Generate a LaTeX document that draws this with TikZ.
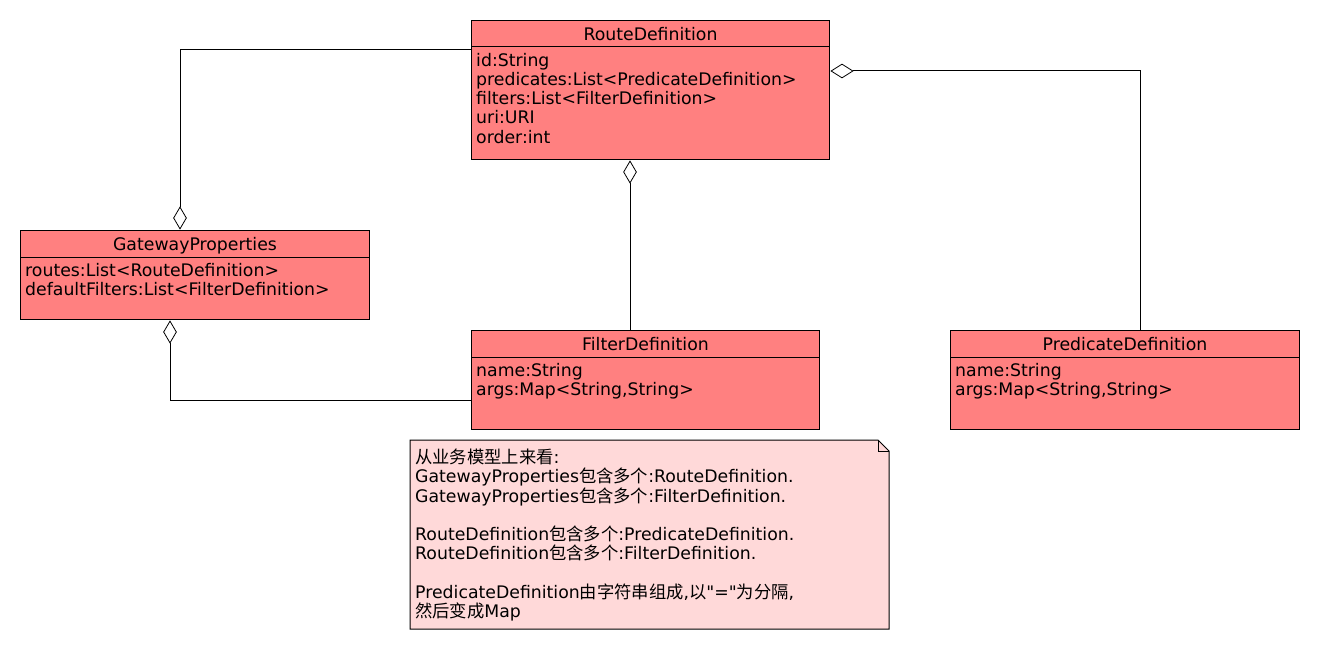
\documentclass[tikz,border=0pt]{standalone}
\usepackage{fontspec}
\setmainfont{DejaVu Sans}
\newfontfamily\plainfont{DejaVu Sans}
\newfontfamily\cjk{Noto Sans CJK SC}
\usetikzlibrary{shapes.geometric, positioning}
\definecolor{classred}{HTML}{FF8080}
\definecolor{notepink}{HTML}{FFD9D9}
\tikzstyle{classbox} = [rectangle, draw=black, fill=classred, anchor=north west, inner sep=0pt, line width=1pt]
\tikzstyle{classname} = [font=\fontsize{17.3}{19.2}\selectfont, inner sep=0pt]
\tikzstyle{attrs} = [font=\fontsize{17.3}{19.2}\selectfont, align=left, anchor=north west, inner sep=0pt]
\tikzstyle{aggr} = [diamond, draw=black, fill=white, inner sep=0pt, line width=0.8pt]
\tikzstyle{link} = [line width=1pt]

\begin{document}
\begin{tikzpicture}[x=1pt, y=-1pt]
        \useasboundingbox (0,0) rectangle (1320,650);
        % class boxes
        \node[classbox, minimum width=358pt, minimum height=139pt] (route) at (471,20) {};
        \node[classname, below=7pt of route.north] (routeT) {RouteDefinition};
        \draw[link] (route.north west) ++(0,27) -- ++(358,0);
        \node[attrs] (routeA) at ([xshift=5pt, yshift=-33pt]route.north west) {id:String\\predicates:List<PredicateDefinition>\\filters:List<FilterDefinition>\\uri:URI\\order:int};

        \node[classbox, minimum width=349pt, minimum height=89pt] (gateway) at (20,230) {};
        \node[classname, below=7pt of gateway.north] (gatewayT) {GatewayProperties};
        \draw[link] (gateway.north west) ++(0,27) -- ++(349,0);
        \node[attrs] (gatewayA) at ([xshift=5pt, yshift=-33pt]gateway.north west) {routes:List<RouteDefinition>\\defaultFilters:List<FilterDefinition>};

        \node[classbox, minimum width=348pt, minimum height=99pt] (filter) at (471,330) {};
        \node[classname, below=7pt of filter.north] (filterT) {FilterDefinition};
        \draw[link] (filter.north west) ++(0,27) -- ++(348,0);
        \node[attrs] (filterA) at ([xshift=5pt, yshift=-33pt]filter.north west) {name:String\\args:Map<String,String>};

        \node[classbox, minimum width=349pt, minimum height=99pt] (pred) at (950,330) {};
        \node[classname, below=7pt of pred.north] (predT) {PredicateDefinition};
        \draw[link] (pred.north west) ++(0,27) -- ++(349,0);
        \node[attrs] (predA) at ([xshift=5pt, yshift=-33pt]pred.north west) {name:String\\args:Map<String,String>};

        % aggregation diamonds
        \node[aggr, minimum width=22pt, minimum height=14pt] (dRP) at (842,71) {};
        \node[aggr, minimum width=13pt, minimum height=22pt] (dRF) at (630,172) {};
        \node[aggr, minimum width=13pt, minimum height=22pt] (dGR) at (180,218) {};
        \node[aggr, minimum width=13pt, minimum height=22pt] (dGF) at (170,332) {};

        \coordinate (rtIn) at (471,50);
        \coordinate (prIn) at (1140,330);
        \coordinate (flTop) at (630,330);
        \coordinate (flIn) at (471,400);
        \draw[link] (dGR.north) |- (rtIn);
        \draw[link] (dRP.east) -| (prIn);
        \draw[link] (dRF.south) -- (flTop);
        \draw[link] (dGF.south) |- (flIn);

        % note
        \draw[link, fill=notepink] (410,440) -- (878,440) -- (889,451) -- (889,629) -- (410,629) -- cycle;
        \draw[link] (878,440) -- (878,451) -- (889,451);
        \node[attrs] (note) at (415,449) {{\cjk 从业务模型上来看}:\\GatewayProperties{\cjk 包含多个}:RouteDefinition.\\GatewayProperties{\cjk 包含多个}:FilterDefinition.\\[19.2pt]RouteDefinition{\cjk 包含多个}:PredicateDefinition.\\RouteDefinition{\cjk 包含多个}:FilterDefinition.\\[19.2pt]PredicateDefinition{\cjk 由字符串组成},{\cjk 以}{\plainfont "="}{\cjk 为分隔},\\{\cjk 然后变成}Map};
    \end{tikzpicture}
\end{document}
